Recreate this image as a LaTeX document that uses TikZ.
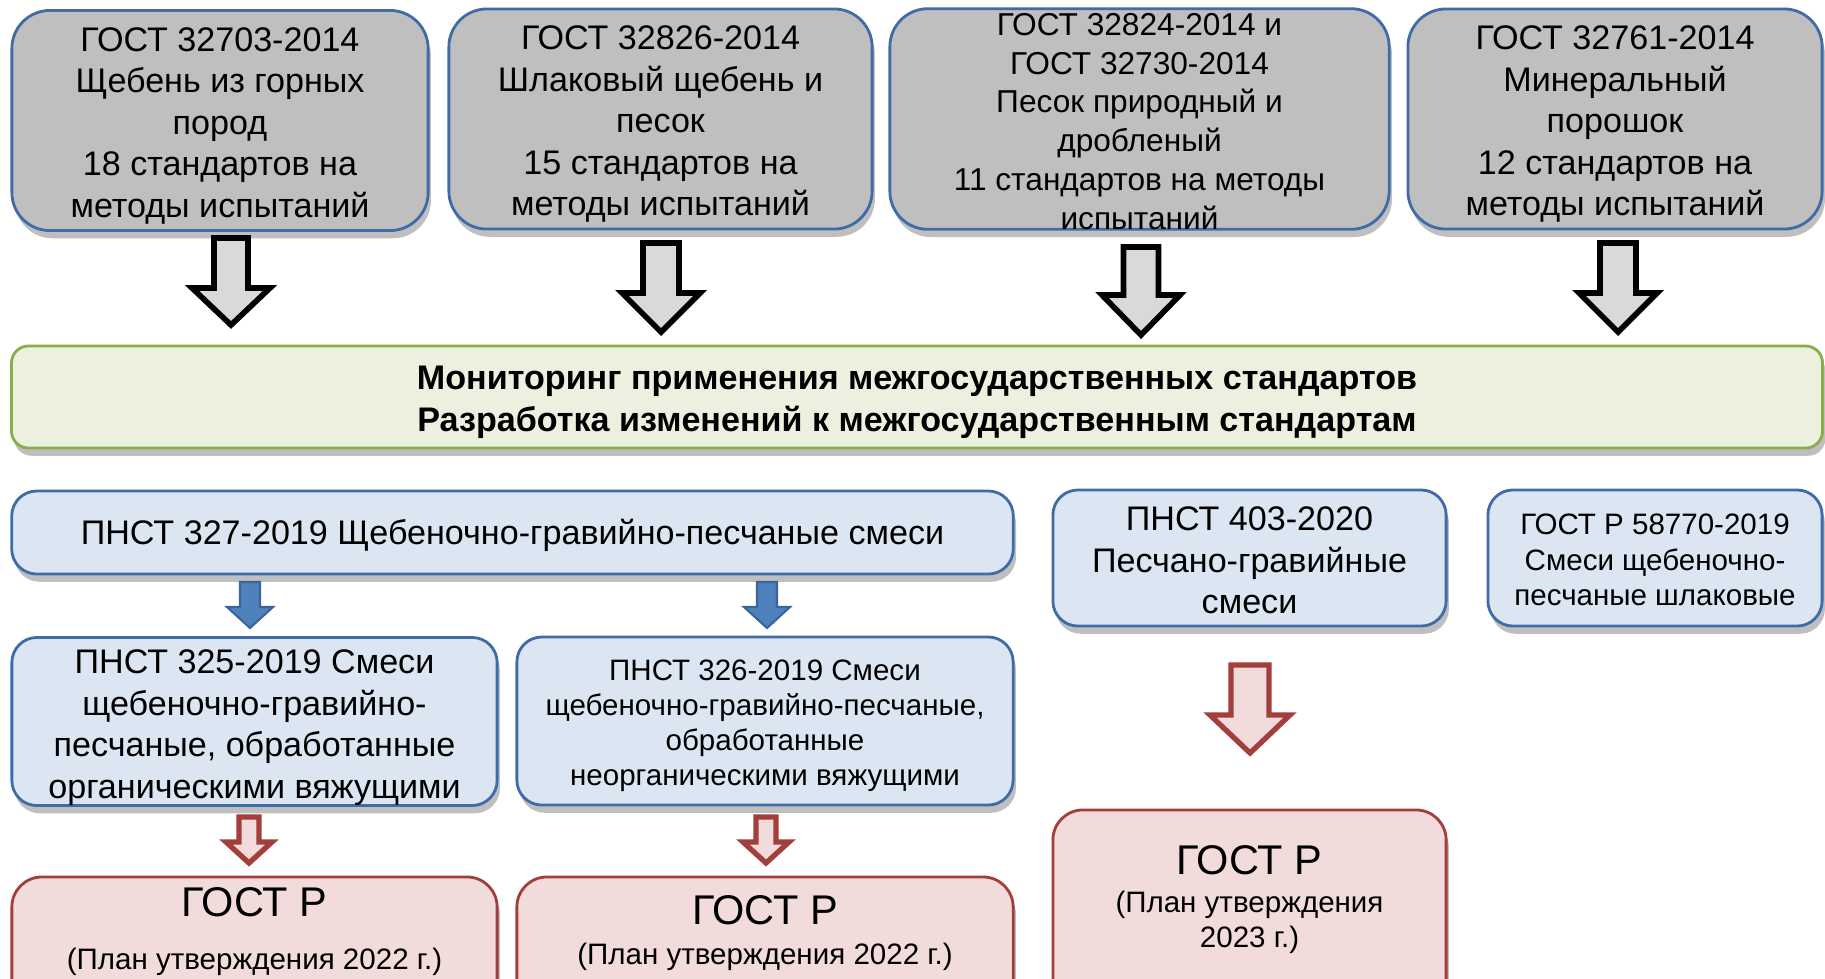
\documentclass[tikz,border=0pt]{standalone}
\usepackage{fontspec}
\setmainfont{Liberation Sans}
\usetikzlibrary{shadows}

\definecolor{stdgray}{HTML}{BFBFBF}
\definecolor{stdline}{HTML}{3F6CA8}
\definecolor{pnstfill}{HTML}{DCE6F2}
\definecolor{bandfill}{HTML}{EBF1DE}
\definecolor{bandline}{HTML}{89AD4A}
\definecolor{planfill}{HTML}{F2DCDB}
\definecolor{planline}{HTML}{A23E3B}
\definecolor{arrgray}{HTML}{D9D9D9}
\definecolor{arrblue}{HTML}{4F81BD}
\definecolor{arrblueline}{HTML}{3A659A}

% taller first line, sets the text a little lower in its box
\newcommand{\fl}[1][1em]{\rule{0pt}{#1}}
% block arrow pointing down: [style]{cx}{top}{head}{tip}{shaft half}{head half}
\newcommand{\blockarrow}[7][]{%
  \draw[#1] ({#2-#6},#3) -- ({#2+#6},#3) -- ({#2+#6},#4) -- ({#2+#7},#4)
    -- (#2,#5) -- ({#2-#7},#4) -- ({#2-#6},#4) -- cycle;}

\begin{document}
\begin{tikzpicture}[
    x=0.01cm, y=-0.01cm,
    box/.style={draw=stdline, line width=0.8pt, align=center, inner sep=0pt,
      drop shadow={shadow xshift=0.8pt, shadow yshift=-2.2pt, fill=black, opacity=0.25}},
    gostbox/.style={box, fill=stdgray, rounded corners=0.38cm, minimum height=2.2cm,
      font=\fontsize{9.7}{11.8}\selectfont},
    pnstbox/.style={box, fill=pnstfill, rounded corners=0.25cm},
    planbox/.style={box, draw=planline, fill=planfill, rounded corners=0.3cm},
    big/.style={font=\fontsize{9.7}{11.8}\selectfont},
    small/.style={font=\fontsize{8.4}{10}\selectfont},
    grayarr/.style={draw=black, line width=1.6pt, fill=arrgray},
    bluearr/.style={draw=arrblueline, line width=0.6pt, fill=arrblue},
    redarr/.style={draw=planline, line width=1.5pt, fill=planfill}
]
\useasboundingbox (0,0) rectangle (1825,978);
\clip (0,0) rectangle (1825,978);

% Top row: interstate standards
\node[gostbox, minimum width=4.16cm] (g1) at (220,120.5)
  {\fl ГОСТ 32703-2014\\Щебень из горных\\пород\\18 стандартов на\\методы испытаний};
\node[gostbox, minimum width=4.23cm] (g2) at (660.5,119)
  {\fl ГОСТ 32826-2014\\Шлаковый щебень и\\песок\\15 стандартов на\\методы испытаний};
\node[gostbox, minimum width=4.99cm, font=\fontsize{9}{11}\selectfont] (g3) at (1139.5,119)
  {\fl[0.85em]ГОСТ 32824-2014 и\\ГОСТ 32730-2014\\Песок природный и\\дробленый\\11 стандартов на методы\\испытаний};
\node[gostbox, minimum width=4.14cm] (g4) at (1615,119)
  {\fl ГОСТ 32761-2014\\Минеральный\\порошок\\12 стандартов на\\методы испытаний};

\blockarrow[grayarr]{231}{238}{288}{325}{17}{39}
\blockarrow[grayarr]{661}{243}{293}{332}{18}{39}
\blockarrow[grayarr]{1141}{247}{295}{335}{17.5}{39}
\blockarrow[grayarr]{1618}{243}{293}{332}{18}{39}

% Monitoring band
\node[box, draw=bandline, fill=bandfill, rounded corners=0.17cm,
  minimum width=18.1cm, minimum height=1.02cm,
  font=\bfseries\fontsize{9.7}{12}\selectfont] (band) at (917,397)
  {\fl Мониторинг применения межгосударственных стандартов\\Разработка изменений к межгосударственным стандартам};

% Preliminary national standards
\node[pnstbox, big, minimum width=10.01cm, minimum height=0.83cm] (p327) at (512.5,532.5)
  {\fl[0.93em]ПНСТ 327-2019 Щебеночно-гравийно-песчаные смеси};
\node[pnstbox, big, minimum width=3.93cm, minimum height=1.36cm] (p403) at (1249.5,558)
  {\fl[0.85em]ПНСТ 403-2020\\Песчано-гравийные\\смеси};
\node[pnstbox, small, minimum width=3.34cm, minimum height=1.36cm] (r58770) at (1655,558)
  {\fl[0.83em]ГОСТ Р 58770-2019\\Смеси щебеночно-\\песчаные шлаковые};

\blockarrow[bluearr]{250}{582}{607}{628}{10}{23}
\blockarrow[bluearr]{767}{582}{607}{628}{10}{23}

\node[pnstbox, big, minimum width=4.85cm, minimum height=1.67cm] (p325) at (254.5,721.5)
  {\fl[1.07em]ПНСТ 325-2019 Смеси\\щебеночно-гравийно-\\песчаные, обработанные\\органическими вяжущими};
\node[pnstbox, small, minimum width=4.96cm, minimum height=1.68cm] (p326) at (765,721)
  {\fl[1.03em]ПНСТ 326-2019 Смеси\\щебеночно-гравийно-песчаные,\\обработанные\\неорганическими вяжущими};

\blockarrow[redarr]{249}{817}{842}{863}{10}{23}
\blockarrow[redarr]{766}{817}{842}{863}{10}{23}
\blockarrow[redarr]{1250}{665}{715}{753}{19}{40}

% National standards to come
\node[planbox, minimum width=4.85cm, minimum height=1.43cm] (r1) at (254.5,948.5) {};
\node[planbox, minimum width=4.96cm, minimum height=1.43cm] (r2) at (765,948.5) {};
\node[planbox, minimum width=3.93cm, minimum height=2.1cm] (r3) at (1249.5,915) {};

\node[font=\fontsize{11.8}{14}\selectfont] (r1a) at (254.5,902) {ГОСТ Р};
\node[small] (r1b) at (254.5,962) {(План утверждения 2022 г.)};
\node[font=\fontsize{11.8}{14}\selectfont] (r2a) at (765,910) {ГОСТ Р};
\node[small] (r2b) at (765,957) {(План утверждения 2022 г.)};
\node[font=\fontsize{11.8}{14}\selectfont] (r3a) at (1249.5,860) {ГОСТ Р};
\node[small, align=center] (r3b) at (1249.5,922) {(План утверждения\\2023 г.)};
\end{tikzpicture}
\end{document}
